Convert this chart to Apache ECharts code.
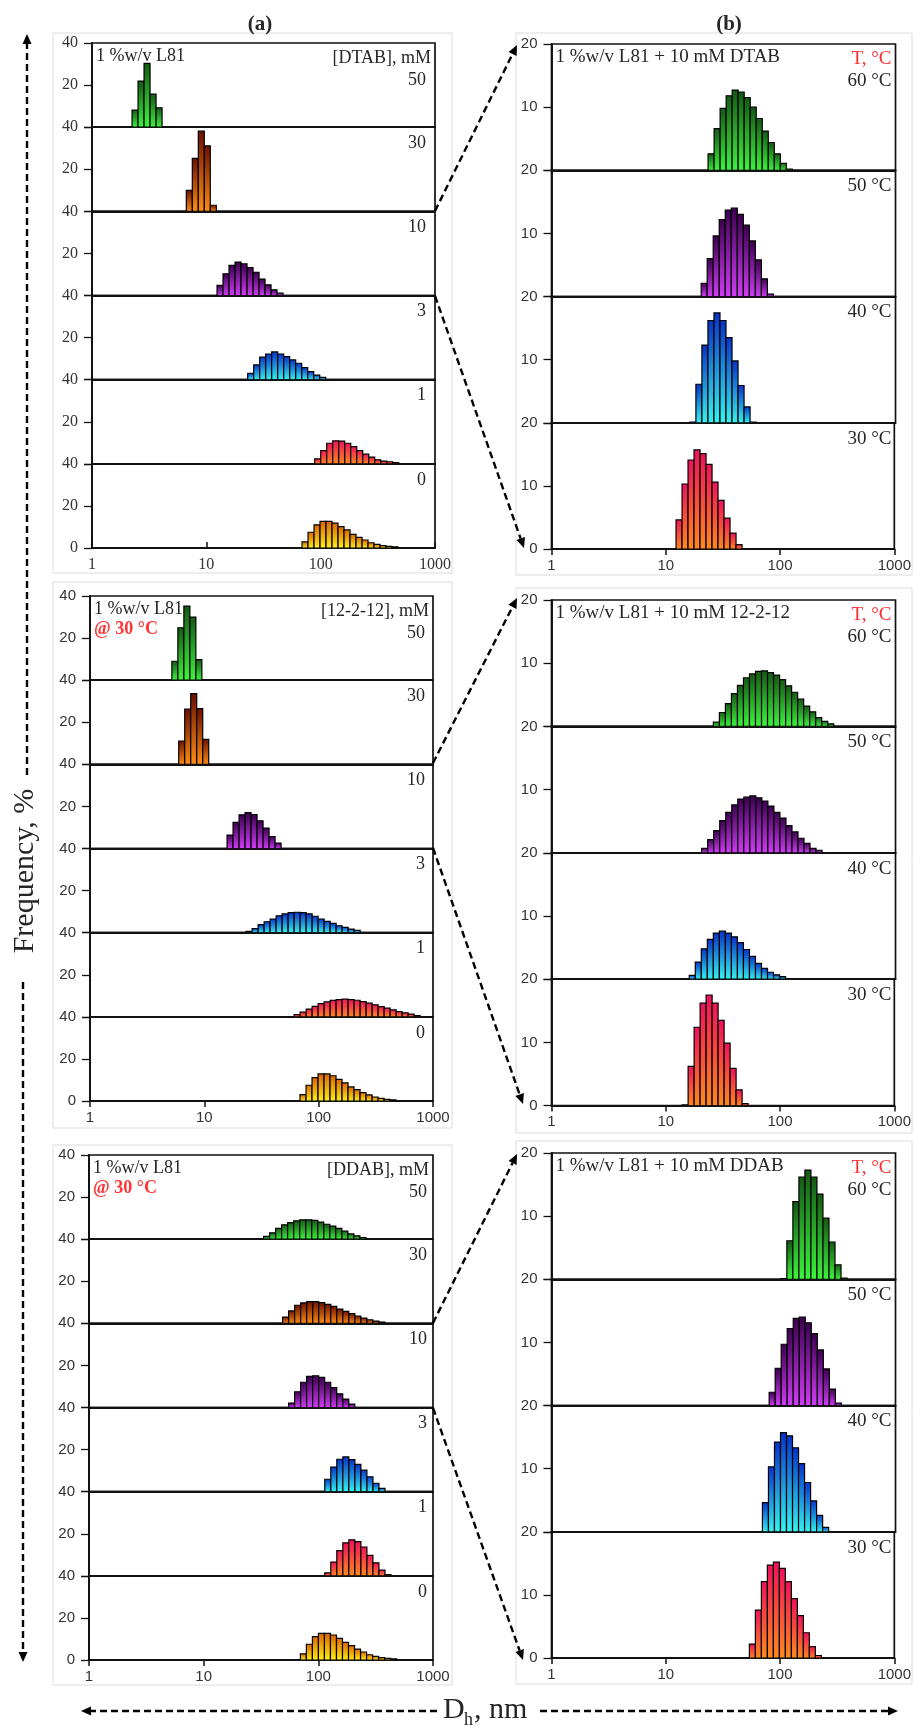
<!DOCTYPE html>
<html><head><meta charset="utf-8">
<script src="https://cdn.jsdelivr.net/npm/echarts@6/dist/echarts.min.js"></script>
<style>html,body{margin:0;padding:0;background:#fff}#c{width:914px;height:1726px}</style>
</head><body><div id="c"></div><script>
// ---------- DATA ----------
const BIN_W = 0.0525; // width of one size bin, in decades of Dh
const concLabels = ['50', '30', '10', '3', '1', '0'];
const tempLabels = ['60 °C', '50 °C', '40 °C', '30 °C'];
const xTickLabels = ['1', '10', '100', '1000'];

// (a) top: DTAB concentration series, first bin lower edge (nm) + frequencies (%)
const dtabFrom = [2.24, 6.68, 12.4, 23.0, 88.7, 68.7];
const dtab50 = [8.1, 21.9, 30.3, 15.7, 9.2];
const dtab30 = [10.0, 25.2, 38.1, 31.1, 2.9];
const dtab10 = [4.8, 10.3, 14.3, 15.9, 15.1, 13.3, 11.0, 7.8, 5.1, 2.7, 1.1];
const dtab3 = [3.0, 7.0, 10.7, 12.2, 13.2, 12.2, 11.0, 9.4, 7.8, 5.7, 3.8, 2.2, 1.1];
const dtab1 = [2.4, 6.3, 9.8, 10.9, 10.8, 9.8, 8.2, 6.3, 4.6, 3.2, 1.9, 1.3, 1.0, 0.6];
const dtab0 = [2.9, 7.5, 11.0, 12.7, 12.7, 11.8, 10.2, 8.6, 6.5, 5.1, 3.8, 2.5, 1.7, 1.1, 0.8, 0.5];

// (a) middle: 12-2-12
const gemFrom = [5.2, 5.97, 15.8, 23.2, 61, 68.7];
const gem50 = [9.0, 24.9, 35.2, 30.0, 9.8];
const gem30 = [11.1, 26.2, 33.6, 26.5, 11.9];
const gem10 = [6.4, 12.4, 16.0, 17.1, 16.1, 13.2, 9.7, 5.7, 2.6];
const gem3 = [0.6, 1.9, 3.8, 5.2, 6.5, 8.0, 8.9, 9.5, 9.7, 9.5, 8.9, 7.8, 6.5, 5.4, 4.4, 3.3, 2.5, 1.7, 1.1];
const gem1 = [1.1, 2.2, 3.7, 5.0, 6.3, 7.1, 7.8, 8.2, 8.4, 8.2, 7.9, 7.2, 6.5, 5.7, 4.9, 4.1, 3.3, 2.5, 1.9, 1.3, 0.6];
const gem0 = [3.0, 7.5, 11.1, 12.9, 12.9, 12.0, 10.3, 8.6, 6.7, 5.4, 4.0, 2.9, 1.9, 1.3, 0.8, 0.5];

// (a) bottom: DDAB
const ddabFrom = [33.3, 48.8, 55, 113.8, 113.8, 69.7];
const ddab50 = [1.3, 3.0, 5.1, 6.8, 7.9, 8.7, 9.2, 9.2, 8.9, 8.1, 7.1, 6.2, 5.1, 3.8, 2.5, 1.6, 0.8];
const ddab30 = [3.0, 5.9, 8.6, 9.7, 10.3, 10.3, 9.8, 9.0, 8.1, 6.8, 5.7, 4.6, 3.5, 2.5, 1.7, 1.1, 0.6];
const ddab10 = [2.1, 7.5, 12.0, 14.8, 15.1, 14.3, 12.0, 9.5, 6.5, 4.0, 1.6];
const ddab3 = [5.9, 11.7, 15.4, 16.5, 15.2, 13.0, 10.2, 7.1, 4.0, 1.6];
const ddab1 = [1.4, 6.5, 12.0, 15.7, 17.1, 16.3, 13.7, 9.7, 6.2, 2.7, 0.6];
const ddab0 = [2.9, 7.5, 11.1, 12.7, 12.7, 11.9, 10.3, 8.4, 6.8, 5.2, 3.8, 2.5, 1.7, 1.1, 0.8, 0.5];

// (b) top: L81 + 10 mM DTAB vs temperature
const dtabTFrom = [23.2, 20.2, 16.1, 12.3];
const dtabT60 = [2.6, 6.6, 9.8, 11.8, 12.7, 12.4, 11.5, 10.0, 8.2, 6.2, 4.4, 2.6, 1.1, 0.2];
const dtabT50 = [2.1, 6.0, 9.6, 12.2, 13.7, 14.0, 13.0, 11.3, 8.8, 5.8, 2.8, 0.4];
const dtabT40 = [0.1, 6.1, 12.3, 16.2, 17.4, 16.2, 13.5, 9.8, 5.9, 2.5, 0.1];
const dtabT30 = [4.6, 10.3, 14.1, 15.7, 15.1, 13.4, 10.6, 7.7, 4.9, 2.5, 0.7];

// (b) middle: L81 + 10 mM 12-2-12
const gemTFrom = [25.8, 20.4, 15.9, 13.9];
const gemT60 = [0.7, 2.2, 3.6, 5.2, 6.5, 7.7, 8.3, 8.7, 8.8, 8.5, 8.1, 7.4, 6.4, 5.4, 4.3, 3.2, 2.3, 1.4, 0.8, 0.4];
const gemT50 = [0.7, 2.1, 3.5, 5.1, 6.4, 7.6, 8.5, 8.8, 9.0, 8.7, 8.2, 7.4, 6.4, 5.5, 4.3, 3.3, 2.3, 1.5, 0.7, 0.4];
const gemT40 = [0.6, 2.7, 4.8, 6.3, 7.3, 7.6, 7.3, 6.7, 5.8, 4.7, 3.6, 2.5, 1.7, 1.1, 0.7, 0.4];
const gemT30 = [0.1, 6.2, 12.4, 16.2, 17.5, 16.2, 13.5, 9.9, 5.9, 2.5, 0.3];

// (b) bottom: L81 + 10 mM DDAB
const ddabTFrom = [100, 79.1, 69.1, 53.9];
const ddabT60 = [0.1, 6.1, 12.3, 16.2, 17.3, 16.2, 13.5, 9.7, 5.9, 2.3, 0.2];
const ddabT50 = [2.1, 5.9, 9.7, 12.2, 13.8, 14.0, 13.1, 11.4, 8.8, 5.8, 2.6, 0.4];
const ddabT40 = [4.6, 10.3, 14.2, 15.7, 15.2, 13.3, 10.8, 7.8, 4.9, 2.6, 0.7];
const ddabT30 = [2.2, 7.6, 12.1, 14.7, 15.2, 14.2, 12.1, 9.4, 6.7, 4.0, 1.8, 0.4];

// ---------- STYLE ----------
const SERIF = "'Liberation Serif','DejaVu Serif',serif";
const SANS = "'Liberation Sans','DejaVu Sans',Arial,sans-serif";
const PALETTE = {
  green: ['#145814', '#3cf53c'],
  orange: ['#6a0f00', '#ff8e12'],
  purple: ['#3a004e', '#d23cf7'],
  blue: ['#0632c8', '#35f3f0'],
  red: ['#f0105c', '#ff8a1c'],
  yellow: ['#dc6400', '#fff014']
};
const concColors = ['green', 'orange', 'purple', 'blue', 'red', 'yellow'];
const tempColors = ['green', 'purple', 'blue', 'red'];

const groups = [
  {top: 43, left: 92, right: 435, h: 84.17, ymax: 40, tf: SERIF, ts: 16, tin: true,
   froms: dtabFrom, freqs: [dtab50, dtab30, dtab10, dtab3, dtab1, dtab0], labels: concLabels, colors: concColors,
   title: '1 %w/v L81', sub: null, header: '[DTAB], mM', hred: false, lx: 9},
  {top: 596, left: 90, right: 433, h: 84.17, ymax: 40, tf: SANS, ts: 15, tin: false,
   froms: gemFrom, freqs: [gem50, gem30, gem10, gem3, gem1, gem0], labels: concLabels, colors: concColors,
   title: '1 %w/v L81', sub: '@ 30 °C', header: '[12-2-12], mM', hred: false, lx: 8},
  {top: 1155, left: 89, right: 433, h: 84.17, ymax: 40, tf: SANS, ts: 15, tin: false,
   froms: ddabFrom, freqs: [ddab50, ddab30, ddab10, ddab3, ddab1, ddab0], labels: concLabels, colors: concColors,
   title: '1 %w/v L81', sub: '@ 30 °C', header: '[DDAB], mM', hred: false, lx: 6},
  {top: 44, left: 551.5, right: 895.5, h: 126.25, ymax: 20, tf: SANS, ts: 15, tin: false,
   froms: dtabTFrom, freqs: [dtabT60, dtabT50, dtabT40, dtabT30], labels: tempLabels, colors: tempColors,
   title: '1 %w/v L81 + 10 mM DTAB', sub: null, header: 'T, °C', hred: true, lx: 4},
  {top: 600, left: 551.5, right: 895.5, h: 126.4, ymax: 20, tf: SANS, ts: 15, tin: false,
   froms: gemTFrom, freqs: [gemT60, gemT50, gemT40, gemT30], labels: tempLabels, colors: tempColors,
   title: '1 %w/v L81 + 10 mM 12-2-12', sub: null, header: 'T, °C', hred: true, lx: 4},
  {top: 1153, left: 551.5, right: 895.5, h: 126.25, ymax: 20, tf: SANS, ts: 15, tin: false,
   froms: ddabTFrom, freqs: [ddabT60, ddabT50, ddabT40, ddabT30], labels: tempLabels, colors: tempColors,
   title: '1 %w/v L81 + 10 mM DDAB', sub: null, header: 'T, °C', hred: true, lx: 4}
];

const grid = [], xAxis = [], yAxis = [], series = [], graphic = [];
const TXT = '#262626';

function txt(x, y, s, opt) {
  opt = opt || {};
  const st = {
    text: s, x: 0, y: 0,
    fill: opt.fill || TXT,
    fontFamily: opt.family || SERIF,
    fontSize: opt.size || 17,
    fontWeight: opt.weight || 'normal',
    align: opt.align || 'left', textAlign: opt.align || 'left',
    verticalAlign: 'middle', textVerticalAlign: 'middle'
  };
  return {type: 'text', x: x, y: y, rotation: opt.rot || 0, style: st, z: 10};
}

groups.forEach(function (g) {
  const n = g.freqs.length;
  g.freqs.forEach(function (freq, r) {
    const idx = grid.length;
    const isBottom = r === n - 1;
    const subTop = g.top + r * g.h;
    grid.push({left: g.left, top: subTop, width: g.right - g.left, height: g.h,
      show: true, borderColor: '#111', borderWidth: 1.7, backgroundColor: 'transparent'});
    xAxis.push({
      type: 'log', logBase: 10, gridIndex: idx, min: 1, max: 1000,
      axisLine: {show: true, onZero: false, lineStyle: {color: '#111', width: 1.9}},
      axisTick: {show: isBottom, inside: g.tin, length: 6, lineStyle: {color: '#111', width: 1.5}},
      axisLabel: {show: isBottom, margin: 9, color: '#333', fontFamily: g.tf, fontSize: g.ts,
        formatter: function (v) { const s = String(Math.round(v)); return xTickLabels.indexOf(s) >= 0 ? s : ''; }},
      splitLine: {show: false}, minorTick: {show: false}, minorSplitLine: {show: false}
    });
    yAxis.push({
      type: 'value', gridIndex: idx, min: 0, max: g.ymax, interval: g.ymax / 2,
      axisLine: {show: true, lineStyle: {color: '#111', width: 1.9}},
      axisTick: {show: true, length: 8, lineStyle: {color: '#111', width: 1.3}},
      axisLabel: {margin: 14, color: '#333', fontFamily: g.tf, fontSize: g.ts,
        formatter: function (v) { return (v === 0 && !isBottom) ? '' : String(v); }},
      splitLine: {show: false}
    });
    const from = g.froms[r];
    const data = freq.map(function (f, i) {
      return [from * Math.pow(10, i * BIN_W), from * Math.pow(10, (i + 1) * BIN_W), f];
    });
    const pal = PALETTE[g.colors[r]];
    series.push({
      type: 'custom', coordinateSystem: 'cartesian2d', xAxisIndex: idx, yAxisIndex: idx,
      data: data, encode: {x: [0, 1], y: 2}, clip: true, silent: true, z: 2,
      renderItem: function (params, api) {
        const p0 = api.coord([api.value(0), api.value(2)]);
        const p1 = api.coord([api.value(1), 0]);
        return {
          type: 'rect',
          shape: {x: p0[0], y: p0[1], width: p1[0] - p0[0], height: p1[1] - p0[1]},
          style: {
            fill: new echarts.graphic.LinearGradient(0, 0, 0, 1, [
              {offset: 0, color: pal[0]}, {offset: 1, color: pal[1]}]),
            stroke: '#000', lineWidth: 1.2
          }
        };
      }
    });
    // subplot label
    const ly = r === 0 ? subTop + 37 : subTop + 16;
    graphic.push(txt(g.right - g.lx, ly, g.labels[r], {align: 'right', size: g.ymax === 40 ? 18 : 19}));
  });
  const big = g.ymax === 40 ? 18 : 19;
  graphic.push(txt(g.left + 4, g.top + 13, g.title, {size: big}));
  if (g.sub) graphic.push(txt(g.left + 4, g.top + 33, g.sub, {size: big, fill: '#ff3535', weight: 'bold'}));
  graphic.push(txt(g.right - 4, g.top + 15, g.header, {align: 'right', size: big, fill: g.hred ? '#ff2b2b' : TXT}));
});

// light frames around each panel
[[53, 33, 399, 540], [53, 582, 399, 546], [53, 1145, 399, 540],
 [516, 33, 396, 542], [516, 588, 396, 545], [516, 1141, 396, 543]].forEach(function (b) {
  graphic.push({type: 'rect', shape: {x: b[0], y: b[1], width: b[2], height: b[3]},
    style: {fill: 'none', stroke: '#dcdcdc', lineWidth: 1}, z: -5});
});

function arrow(x1, y1, x2, y2) {
  const dx = x2 - x1, dy = y2 - y1, L = Math.hypot(dx, dy), ux = dx / L, uy = dy / L;
  const hl = 10, hw = 4.5;
  const bx = x2 - ux * hl, by = y2 - uy * hl;
  graphic.push({type: 'line', shape: {x1: x1, y1: y1, x2: bx, y2: by},
    style: {stroke: '#000', lineWidth: 2.4, lineDash: [7, 4]}, z: 8});
  graphic.push({type: 'polygon', shape: {points: [[x2, y2], [bx - uy * hw, by + ux * hw], [bx + uy * hw, by - ux * hw]]},
    style: {fill: '#000'}, z: 8});
}
arrow(27, 775, 27, 34);
arrow(23, 982, 23, 1662);
arrow(437, 1711, 81, 1711);
arrow(540, 1711, 898, 1711);
arrow(435, 211, 517, 45);
arrow(435, 296, 524, 548);
arrow(433, 763, 517, 598);
arrow(433, 848, 523, 1104);
arrow(433, 1323, 517, 1154);
arrow(433, 1408, 523, 1660);

graphic.push(txt(25, 871, 'Frequency, %', {align: 'center', size: 30, rot: Math.PI / 2}));
graphic.push(txt(443, 1710, 'D', {size: 30}));
graphic.push(txt(464, 1720, 'h', {size: 18}));
graphic.push(txt(474, 1710, ', nm', {size: 30}));
graphic.push(txt(260, 25, '(a)', {align: 'center', size: 21, weight: 'bold'}));
graphic.push(txt(729, 25, '(b)', {align: 'center', size: 21, weight: 'bold'}));

const chart = echarts.init(document.getElementById('c'), null, {renderer: 'canvas'});
chart.setOption({animation: false, backgroundColor: '#fff', grid: grid, xAxis: xAxis, yAxis: yAxis, series: series, graphic: graphic});
</script></body></html>
